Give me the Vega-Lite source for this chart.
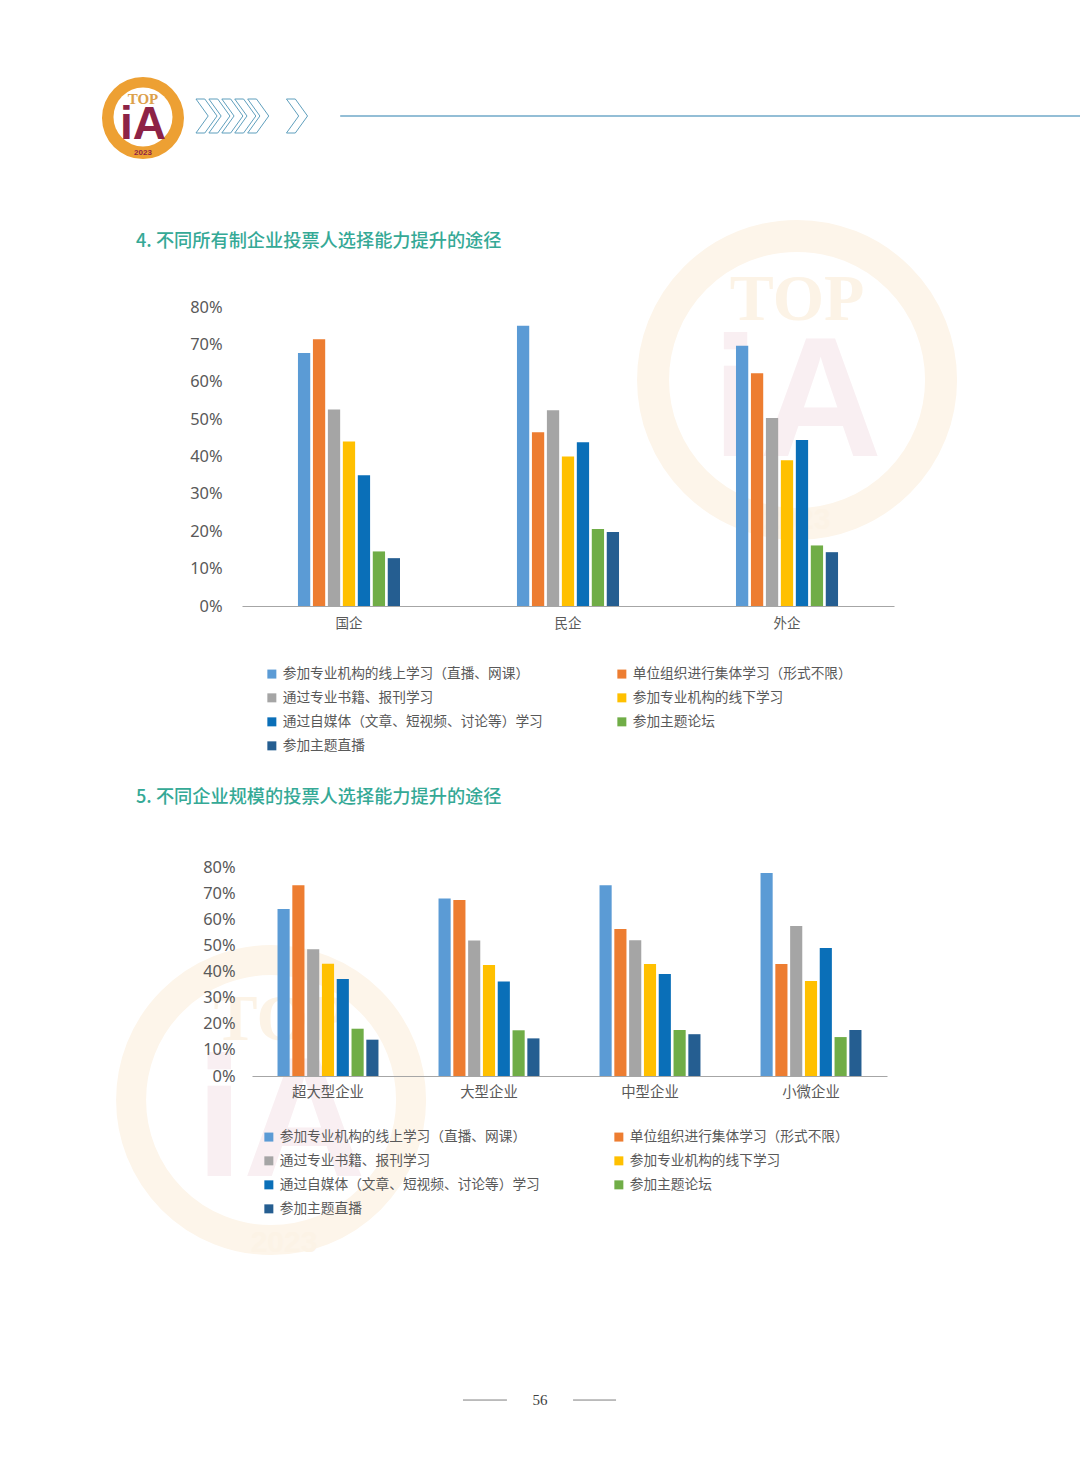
{
"$schema":"https://vega.github.io/schema/vega-lite/v6.json",
"background":"#ffffff","padding":0,"bounds":"flush","spacing":0,
"resolve":{"scale":{"color":"independent"},"legend":{"color":"independent"}},
"config":{"view":{"stroke":null},"font":"Noto Sans CJK SC"},
"datasets":{
"own":[
{"category":"国企","series":"参加专业机构的线上学习（直播、网课）","value":67.7},
{"category":"国企","series":"单位组织进行集体学习（形式不限）","value":71.4},
{"category":"国企","series":"通过专业书籍、报刊学习","value":52.6},
{"category":"国企","series":"参加专业机构的线下学习","value":44},
{"category":"国企","series":"通过自媒体（文章、短视频、讨论等）学习","value":35},
{"category":"国企","series":"参加主题论坛","value":14.6},
{"category":"国企","series":"参加主题直播","value":12.8},
{"category":"民企","series":"参加专业机构的线上学习（直播、网课）","value":75},
{"category":"民企","series":"单位组织进行集体学习（形式不限）","value":46.5},
{"category":"民企","series":"通过专业书籍、报刊学习","value":52.4},
{"category":"民企","series":"参加专业机构的线下学习","value":40},
{"category":"民企","series":"通过自媒体（文章、短视频、讨论等）学习","value":43.8},
{"category":"民企","series":"参加主题论坛","value":20.6},
{"category":"民企","series":"参加主题直播","value":19.8},
{"category":"外企","series":"参加专业机构的线上学习（直播、网课）","value":69.6},
{"category":"外企","series":"单位组织进行集体学习（形式不限）","value":62.3},
{"category":"外企","series":"通过专业书籍、报刊学习","value":50.3},
{"category":"外企","series":"参加专业机构的线下学习","value":39},
{"category":"外企","series":"通过自媒体（文章、短视频、讨论等）学习","value":44.4},
{"category":"外企","series":"参加主题论坛","value":16.2},
{"category":"外企","series":"参加主题直播","value":14.4}],
"size":[
{"category":"超大型企业","series":"参加专业机构的线上学习（直播、网课）","value":63.9},
{"category":"超大型企业","series":"单位组织进行集体学习（形式不限）","value":73},
{"category":"超大型企业","series":"通过专业书籍、报刊学习","value":48.5},
{"category":"超大型企业","series":"参加专业机构的线下学习","value":43},
{"category":"超大型企业","series":"通过自媒体（文章、短视频、讨论等）学习","value":37.1},
{"category":"超大型企业","series":"参加主题论坛","value":18.1},
{"category":"超大型企业","series":"参加主题直播","value":13.9},
{"category":"大型企业","series":"参加专业机构的线上学习（直播、网课）","value":67.9},
{"category":"大型企业","series":"单位组织进行集体学习（形式不限）","value":67.4},
{"category":"大型企业","series":"通过专业书籍、报刊学习","value":51.9},
{"category":"大型企业","series":"参加专业机构的线下学习","value":42.5},
{"category":"大型企业","series":"通过自媒体（文章、短视频、讨论等）学习","value":36.2},
{"category":"大型企业","series":"参加主题论坛","value":17.5},
{"category":"大型企业","series":"参加主题直播","value":14.4},
{"category":"中型企业","series":"参加专业机构的线上学习（直播、网课）","value":73},
{"category":"中型企业","series":"单位组织进行集体学习（形式不限）","value":56.3},
{"category":"中型企业","series":"通过专业书籍、报刊学习","value":52},
{"category":"中型企业","series":"参加专业机构的线下学习","value":42.9},
{"category":"中型企业","series":"通过自媒体（文章、短视频、讨论等）学习","value":39},
{"category":"中型企业","series":"参加主题论坛","value":17.6},
{"category":"中型企业","series":"参加主题直播","value":16},
{"category":"小微企业","series":"参加专业机构的线上学习（直播、网课）","value":77.7},
{"category":"小微企业","series":"单位组织进行集体学习（形式不限）","value":42.9},
{"category":"小微企业","series":"通过专业书籍、报刊学习","value":57.4},
{"category":"小微企业","series":"参加专业机构的线下学习","value":36.4},
{"category":"小微企业","series":"通过自媒体（文章、短视频、讨论等）学习","value":49},
{"category":"小微企业","series":"参加主题论坛","value":14.9},
{"category":"小微企业","series":"参加主题直播","value":17.6}],
"chev":[{"n":1},{"n":2},{"n":3},{"n":4},{"n":5},{"n":8}],
"one":[{"k":1}]
},
"vconcat":[
{"width":1080,"height":200,"data":{"name":"one"},
"resolve":{"scale":{"x":"independent"}},
"layer":[
{"mark":{"type":"rule","stroke":"#6fa9c9","strokeWidth":1.4},"encoding":{"x":{"datum":0.315,"type":"quantitative","scale":{"domain":[0,1],"range":[0,1080]},"axis":null},"x2":{"datum":1},"y":{"datum":0.58,"type":"quantitative","scale":{"domain":[0,1],"range":[0,200]},"axis":null}}},
{"data":{"name":"chev"},"mark":{"type":"point","shape":"M-0.62,-1 L-0.1,-1 L0.62,0 L-0.1,1 L-0.62,1 L0.1,0 Z","size":1156,"filled":false,"stroke":"#5f9fbd","strokeWidth":1,"opacity":1},"encoding":{"x":{"field":"n","type":"quantitative","scale":{"domain":[1,8],"range":[206.5,297]},"axis":null},"y":{"datum":0.58,"type":"quantitative"}}},
{"mark":{"type":"point","filled":true,"fill":"#eda033","size":6724,"opacity":1},"encoding":{"x":{"datum":0.1324,"type":"quantitative","scale":{"domain":[0,1],"range":[0,1080]},"axis":null},"y":{"datum":0.59,"type":"quantitative"}}},
{"mark":{"type":"point","filled":true,"fill":"#ffffff","size":3480,"opacity":1},"encoding":{"x":{"datum":0.1324,"type":"quantitative","scale":{"domain":[0,1],"range":[0,1080]},"axis":null},"y":{"datum":0.585,"type":"quantitative"}}},
{"mark":{"type":"text","text":"TOP","fontSize":15,"font":"Liberation Serif","fontWeight":"bold","fill":"#dca04a"},"encoding":{"x":{"datum":0.1324,"type":"quantitative","scale":{"domain":[0,1],"range":[0,1080]},"axis":null},"y":{"datum":0.495,"type":"quantitative"}}},
{"mark":{"type":"text","text":"iA","fontSize":46,"font":"Liberation Sans","fontWeight":"bold","fill":"#8d2346"},"encoding":{"x":{"datum":0.1324,"type":"quantitative","scale":{"domain":[0,1],"range":[0,1080]},"axis":null},"y":{"datum":0.625,"type":"quantitative"}}},
{"mark":{"type":"text","text":"2023","fontSize":8,"font":"Liberation Sans","fontWeight":"bold","fill":"#8d2346"},"encoding":{"x":{"datum":0.1324,"type":"quantitative","scale":{"domain":[0,1],"range":[0,1080]},"axis":null},"y":{"datum":0.765,"type":"quantitative"}}}
]},
{"width":1080,"height":406,
"title":{"text":"4. 不同所有制企业投票人选择能力提升的途径","anchor":"start","frame":"group","dx":136,"dy":16,"offset":-63,"fontSize":18.2,"fontWeight":500,"font":"Noto Sans CJK SC","color":"#35a996"},
"resolve":{"scale":{"x":"independent","xOffset":"independent"}},
"layer":[
{"data":{"name":"one"},"mark":{"type":"point","filled":false,"stroke":"#fdf5ea","strokeWidth":32,"size":82944,"opacity":1},"encoding":{"x":{"datum":0.738,"type":"quantitative","scale":{"domain":[0,1],"range":[0,1080]},"axis":null},"y":{"datum":60.5,"type":"quantitative"}}},
{"data":{"name":"one"},"mark":{"type":"text","text":"iA","fontSize":170,"font":"Liberation Sans","fontWeight":"bold","fill":"#f9eff2"},"encoding":{"x":{"datum":0.738,"type":"quantitative","scale":{"domain":[0,1],"range":[0,1080]},"axis":null},"y":{"datum":53.8,"type":"quantitative"}}},
{"data":{"name":"one"},"mark":{"type":"text","text":"TOP","fontSize":66,"font":"Liberation Serif","fontWeight":"bold","fill":"#fcf3e6"},"encoding":{"x":{"datum":0.738,"type":"quantitative","scale":{"domain":[0,1],"range":[0,1080]},"axis":null},"y":{"datum":81.9,"type":"quantitative"}}},
{"data":{"name":"one"},"mark":{"type":"text","text":"2023","fontSize":30,"font":"Liberation Sans","fontWeight":"bold","fill":"#fcf3e6"},"encoding":{"x":{"datum":0.738,"type":"quantitative","scale":{"domain":[0,1],"range":[0,1080]},"axis":null},"y":{"datum":23,"type":"quantitative"}}},
{"data":{"name":"own"},"mark":{"type":"bar"},"encoding":{
"x":{"field":"category","type":"nominal","sort":null,"title":null,"scale":{"range":[242,894],"paddingInner":0.534,"paddingOuter":0.2555},"axis":{"zindex":1,"labelAngle":0,"ticks":false,"labelPadding":10,"labelFontSize":13.5,"labelColor":"#595959","labelFont":"Noto Sans CJK SC","domainColor":"#a6a6a6","domainWidth":1.2}},
"xOffset":{"field":"series","type":"nominal","sort":null,"scale":{"paddingInner":0.18}},
"y":{"field":"value","type":"quantitative","title":null,"scale":{"domain":[0,80],"range":[406,107],"nice":false},"axis":{"zindex":1,"offset":-240,"domain":false,"ticks":false,"grid":false,"values":[0,10,20,30,40,50,60,70,80],"labelExpr":"datum.value+'%'","labelPadding":18,"labelFontSize":16.4,"labelColor":"#595959","labelFont":"Noto Sans"}},
"color":{"field":"series","type":"nominal","sort":null,"scale":{"range":["#5b9bd5","#ed7d31","#a5a5a5","#ffc000","#0a6fb8","#70ad47","#255e91"]},"legend":{"values":["参加专业机构的线上学习（直播、网课）","通过专业书籍、报刊学习","通过自媒体（文章、短视频、讨论等）学习","参加主题直播","单位组织进行集体学习（形式不限）","参加专业机构的线下学习","参加主题论坛"],"orient":"none","legendX":265,"legendY":467,"columns":2,"title":null,"columnPadding":72,"rowPadding":9,"symbolType":"square","symbolSize":81,"symbolStrokeWidth":0,"symbolOpacity":1,"labelFontSize":13.7,"labelLimit":400,"labelColor":"#595959","labelFont":"Noto Sans CJK SC","labelOffset":4}}
}}
]},
{"width":1080,"height":470,
"title":{"text":"5. 不同企业规模的投票人选择能力提升的途径","anchor":"start","frame":"group","dx":136,"offset":-201,"fontSize":18.2,"fontWeight":500,"font":"Noto Sans CJK SC","color":"#35a996"},
"resolve":{"scale":{"x":"independent","xOffset":"independent"}},
"layer":[
{"data":{"name":"one"},"mark":{"type":"point","filled":false,"stroke":"#fdf5ea","strokeWidth":30,"size":78400,"opacity":1},"encoding":{"x":{"datum":0.251,"type":"quantitative","scale":{"domain":[0,1],"range":[0,1080]},"axis":null},"y":{"datum":-9.2,"type":"quantitative"}}},
{"data":{"name":"one"},"mark":{"type":"text","text":"iA","fontSize":170,"font":"Liberation Sans","fontWeight":"bold","fill":"#f9eff2"},"encoding":{"x":{"datum":0.26,"type":"quantitative","scale":{"domain":[0,1],"range":[0,1080]},"axis":null},"y":{"datum":-18.8,"type":"quantitative"}}},
{"data":{"name":"one"},"mark":{"type":"text","text":"TOP","fontSize":66,"font":"Liberation Serif","fontWeight":"bold","fill":"#fcf3e6"},"encoding":{"x":{"datum":0.26,"type":"quantitative","scale":{"domain":[0,1],"range":[0,1080]},"axis":null},"y":{"datum":21.4,"type":"quantitative"}}},
{"data":{"name":"one"},"mark":{"type":"text","text":"2023","fontSize":30,"font":"Liberation Sans","fontWeight":"bold","fill":"#fcf3e6"},"encoding":{"x":{"datum":0.263,"type":"quantitative","scale":{"domain":[0,1],"range":[0,1080]},"axis":null},"y":{"datum":-63.9,"type":"quantitative"}}},
{"data":{"name":"size"},"mark":{"type":"bar"},"encoding":{
"x":{"field":"category","type":"nominal","sort":null,"title":null,"scale":{"range":[252,887],"paddingInner":0.373,"paddingOuter":0.1585},"axis":{"zindex":1,"labelAngle":0,"ticks":false,"labelPadding":9,"labelFontSize":14.4,"labelColor":"#595959","labelFont":"Noto Sans CJK SC","domainColor":"#a6a6a6","domainWidth":1.2}},
"xOffset":{"field":"series","type":"nominal","sort":null,"scale":{"paddingInner":0.18}},
"y":{"field":"value","type":"quantitative","title":null,"scale":{"domain":[0,80],"range":[470,261],"nice":false},"axis":{"zindex":1,"offset":-252,"domain":false,"ticks":false,"grid":false,"values":[0,10,20,30,40,50,60,70,80],"labelExpr":"datum.value+'%'","labelPadding":17,"labelFontSize":16.4,"labelColor":"#595959","labelFont":"Noto Sans"}},
"color":{"field":"series","type":"nominal","sort":null,"scale":{"range":["#5b9bd5","#ed7d31","#a5a5a5","#ffc000","#0a6fb8","#70ad47","#255e91"]},"legend":{"values":["参加专业机构的线上学习（直播、网课）","通过专业书籍、报刊学习","通过自媒体（文章、短视频、讨论等）学习","参加主题直播","单位组织进行集体学习（形式不限）","参加专业机构的线下学习","参加主题论坛"],"orient":"none","legendX":262,"legendY":524,"columns":2,"title":null,"columnPadding":72,"rowPadding":9,"symbolType":"square","symbolSize":81,"symbolStrokeWidth":0,"symbolOpacity":1,"labelFontSize":13.7,"labelLimit":400,"labelColor":"#595959","labelFont":"Noto Sans CJK SC","labelOffset":4}}
}}
]},
{"width":1080,"height":389,"data":{"name":"one"},
"layer":[
{"mark":{"type":"rule","stroke":"#7f7f7f","strokeWidth":1},"encoding":{"x":{"datum":0.4287,"type":"quantitative","scale":{"domain":[0,1],"range":[0,1080]},"axis":null},"x2":{"datum":0.4694},"y":{"datum":0.833,"type":"quantitative","scale":{"domain":[0,1],"range":[0,389]},"axis":null}}},
{"mark":{"type":"rule","stroke":"#7f7f7f","strokeWidth":1},"encoding":{"x":{"datum":0.5306,"type":"quantitative","scale":{"domain":[0,1],"range":[0,1080]},"axis":null},"x2":{"datum":0.5704},"y":{"datum":0.833,"type":"quantitative"}}},
{"mark":{"type":"text","text":"56","fontSize":15,"font":"Liberation Serif","fill":"#404040"},"encoding":{"x":{"datum":0.5,"type":"quantitative","scale":{"domain":[0,1],"range":[0,1080]},"axis":null},"y":{"datum":0.833,"type":"quantitative"}}}
]}
]
}
